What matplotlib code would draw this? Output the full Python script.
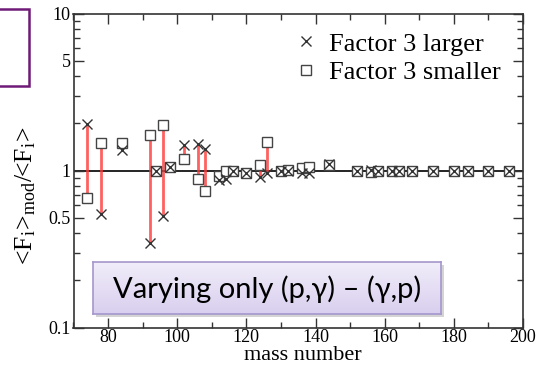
import matplotlib
matplotlib.use("Agg")
import matplotlib.pyplot as plt
import numpy as np
from matplotlib.patches import Rectangle
from matplotlib.colors import LinearSegmentedColormap
from matplotlib.ticker import FixedLocator, LogLocator, NullFormatter, MultipleLocator

plt.rcParams['font.family'] = ['Liberation Serif', 'DejaVu Serif']
plt.rcParams['mathtext.fontset'] = 'stix'

# ---- data ----
mass = [74, 78, 84, 92, 94, 96, 98, 102, 106, 108, 112, 114, 116, 120, 124, 126,
        130, 132, 136, 138, 144, 152, 156, 158, 162, 164, 168, 174, 180, 184, 190, 196]
larger = [1.98, 0.53, 1.36, 0.345, 1.00, 0.51, 1.05, 1.45, 1.47, 1.38, 0.87, 0.88,
          0.99, 0.96, 0.91, 0.97, 0.99, 1.00, 0.96, 0.97, 1.10, 1.00, 1.01, 1.00,
          1.00, 1.00, 1.00, 1.00, 1.00, 1.00, 1.00, 1.00]
smaller = [0.67, 1.49, 1.49, 1.68, 1.00, 1.95, 1.05, 1.18, 0.88, 0.74, 0.92, 1.00,
           1.00, 0.96, 1.08, 1.51, 1.00, 1.01, 1.04, 1.06, 1.08, 1.00, 0.98, 1.00,
           1.00, 1.00, 1.00, 1.00, 1.00, 1.00, 1.00, 1.00]
arrow_mass = [74, 78, 92, 96, 102, 106, 108, 112, 124, 126]
legend_labels = ['Factor 3 larger', 'Factor 3 smaller']
ytick_vals = [0.1, 0.5, 1, 5, 10]
ytick_labels = ['0.1', '0.5', '1', '5', '10']
xtick_vals = [80, 100, 120, 140, 160, 180, 200]
box_text = 'Varying only (p,\u03b3) \u2013 (\u03b3,p)'

W, H = 548, 365
fig = plt.figure(figsize=(W / 100, H / 100), dpi=100)
ax = fig.add_axes([73.5 / W, 1 - 327.5 / H, (523 - 73.5) / W, (327.5 - 13.5) / H])
ax.set_yscale('log')
ax.set_xlim(70, 200)
ax.set_ylim(0.1, 10)

ax.axhline(1.0, color='black', lw=1.2, zorder=1)

for m in arrow_mass:
    i = mass.index(m)
    ax.plot([m, m], [larger[i], smaller[i]], color='#ff3a3a', alpha=0.8, lw=2.0,
            solid_capstyle='butt', zorder=2)

ax.plot(mass, smaller, linestyle='none', marker='s', ms=7.5, mfc='white', mec='#444444',
        mew=1.0, zorder=3, label=legend_labels[1])
ax.plot(mass, larger, linestyle='none', marker='x', ms=7.5, mec='#333333', mew=1.0,
        zorder=4, label=legend_labels[0])

ax.yaxis.set_major_locator(FixedLocator(ytick_vals))
ax.set_yticklabels(ytick_labels)
ax.yaxis.set_minor_locator(LogLocator(base=10, subs=(2, 3, 4, 6, 7, 8, 9)))
ax.yaxis.set_minor_formatter(NullFormatter())
ax.xaxis.set_major_locator(FixedLocator(xtick_vals))
ax.set_xticklabels([str(v) for v in xtick_vals])
ax.xaxis.set_minor_locator(MultipleLocator(10))

ax.tick_params(which='both', direction='in', top=True, right=True, labelsize=13,
               color='#333333', width=1.0, pad=2)
ax.tick_params(axis='x', pad=1)
ax.tick_params(which='major', length=7)
ax.tick_params(which='minor', length=4)
for s in ax.spines.values():
    s.set_linewidth(1.2)
    s.set_color('#333333')

ax.set_xlabel('mass number', fontsize=16)
ax.xaxis.set_label_coords(0.51, -0.06)
ax.set_ylabel(r'<F$_\mathregular{i}$>$_\mathregular{mod}$/<F$_\mathregular{i}$>', fontsize=18.5)
ax.yaxis.set_label_coords(-0.08, 0.42)

h, l = ax.get_legend_handles_labels()
leg = ax.legend([h[1], h[0]], [l[1], l[0]], loc='upper left', bbox_to_anchor=(0.455, 0.995),
                frameon=False, fontsize=19, handlelength=0.8, handletextpad=0.5,
                labelspacing=0.2, borderaxespad=0.25)

# text box with vertical lavender gradient
bx0, by0, bx1, by1 = 93, 262, 441, 314
shadow = Rectangle(((bx0 + 3) / W, 1 - (by1 + 3) / H), (bx1 - bx0) / W, (by1 - by0) / H,
                   transform=fig.transFigure, facecolor='#d4d4d4', edgecolor='none', zorder=9)
fig.patches.append(shadow)
gax = fig.add_axes([bx0 / W, 1 - by1 / H, (bx1 - bx0) / W, (by1 - by0) / H], zorder=10)
grad = np.linspace(0, 1, 64).reshape(-1, 1)
cmap = LinearSegmentedColormap.from_list('lav', ['#f1edf9', '#d9cfef'])
gax.imshow(grad, aspect='auto', cmap=cmap, extent=[0, 1, 0, 1], origin='upper')
gax.set_xlim(0, 1)
gax.set_ylim(0, 1)
gax.set_xticks([])
gax.set_yticks([])
for s in gax.spines.values():
    s.set_color('#a596cc')
    s.set_linewidth(1.2)
gax.text(0.5, 0.47, box_text, ha='center', va='center', fontsize=21,
         family=['Lato', 'DejaVu Sans'], color='black', transform=gax.transAxes)

# partial purple frame at top-left
fig.patches.append(Rectangle((-10 / W, 1 - 86 / H), 39 / W, 77 / H, transform=fig.transFigure,
                             facecolor='none', edgecolor='#6f1a78', lw=1.8))

fig.savefig('out.png', dpi=100)
